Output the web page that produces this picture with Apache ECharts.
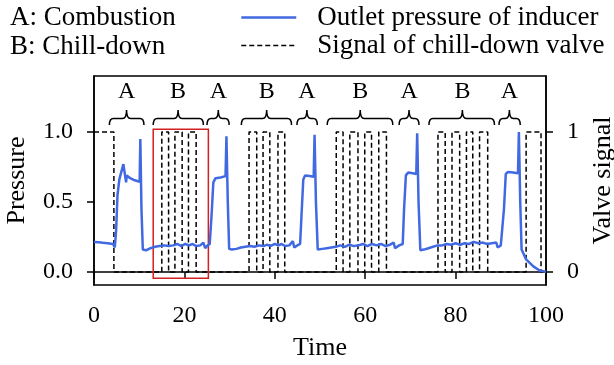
<!DOCTYPE html>
<html>
<head>
<meta charset="utf-8">
<script src="https://cdn.jsdelivr.net/npm/echarts@6.0.0/dist/echarts.min.js"></script>
<style>
  html, body { margin: 0; padding: 0; background: #fff; }
  #chart-container { width: 614px; height: 365px; }
</style>
</head>
<body>
<div id="chart-container"></div>
<script>
// outlet pressure of inducer (normalised)
const pressureTime = [0, 1, 2, 3, 4.2, 4.6, 4.9, 5.2, 5.6, 6.0, 6.5, 6.9, 7.1, 7.25, 8, 9, 10.1, 10.25, 10.5, 10.8,
  11.5, 12.5, 13.5, 14.5, 15.5, 16.5, 17.5, 18.5, 19.3, 20.2, 21, 21.8, 22.6, 23.5, 24.2, 24.6, 25.0,
  25.6, 26.0, 26.4, 26.9, 28, 29.1, 29.3, 29.6, 29.9,
  30.5, 31.5, 32.5, 33.5, 34.5, 35.5, 36.5, 37.5, 38.3, 39, 40, 40.8, 41.5, 42.3, 43.2, 44.0, 44.3, 45.0,
  45.6, 45.9, 46.3, 46.7, 47.7, 48.6, 48.8, 49.1, 49.5,
  50.5, 51.5, 52.5, 53.5, 54.5, 55.5, 56.5, 57.5, 58.5, 59.5, 60.5, 61.5, 62.5, 63.5, 64.5, 65.5, 66.3, 66.6, 67.5,
  68.3, 68.6, 69.0, 69.5, 70.5, 71.3, 71.5, 71.8, 72.2,
  73, 74, 75, 76, 77, 78, 79, 80, 81, 82, 83, 84, 85, 86, 87, 88, 89.0, 89.3, 90.0,
  90.4, 90.7, 91.1, 91.6, 92.7, 93.8, 94.0, 94.3, 94.6, 95.6, 97.2, 98.5, 100];
const pressureValue = [0.215, 0.212, 0.208, 0.205, 0.2, 0.175, 0.30, 0.55, 0.66, 0.71, 0.77, 0.78, 0.64, 0.69, 0.67, 0.655, 0.645, 0.95, 0.45, 0.16,
  0.155, 0.17, 0.18, 0.185, 0.19, 0.185, 0.19, 0.2, 0.185, 0.2, 0.19, 0.2, 0.185, 0.19, 0.21, 0.17, 0.185,
  0.2, 0.4, 0.64, 0.67, 0.675, 0.685, 0.97, 0.5, 0.165,
  0.16, 0.165, 0.175, 0.18, 0.185, 0.18, 0.19, 0.185, 0.195, 0.185, 0.2, 0.19, 0.2, 0.185, 0.19, 0.22, 0.175, 0.19,
  0.2, 0.4, 0.66, 0.69, 0.685, 0.68, 0.98, 0.5, 0.16,
  0.165, 0.17, 0.175, 0.18, 0.19, 0.18, 0.195, 0.185, 0.19, 0.2, 0.185, 0.2, 0.19, 0.2, 0.185, 0.195, 0.21, 0.17, 0.19,
  0.2, 0.45, 0.69, 0.71, 0.705, 0.7, 0.99, 0.5, 0.155,
  0.16, 0.17, 0.18, 0.19, 0.19, 0.2, 0.195, 0.205, 0.195, 0.205, 0.2, 0.215, 0.205, 0.21, 0.2, 0.205, 0.21, 0.175, 0.19,
  0.2, 0.45, 0.7, 0.715, 0.71, 0.705, 1.0, 0.5, 0.16, 0.09, 0.04, 0.012, 0.0];

// chill-down valve signal: value switches to valveValue[i] at valveTime[i]
const valveTime = [0, 4.4,
  15.0, 16.5, 17.9, 19.5, 20.9, 22.6,
  34.3, 36.0, 37.4, 38.9, 40.7, 42.2,
  53.6, 55.1, 56.6, 58.4, 59.9, 61.4, 63.0, 64.7,
  76.1, 77.7, 79.2, 80.9, 82.4, 83.8, 85.3, 87.1,
  95.6, 98.9, 100];
const valveValue = [1, 0,
  1, 0, 1, 0, 1, 0,
  1, 0, 1, 0, 1, 0,
  1, 0, 1, 0, 1, 0, 1, 0,
  1, 0, 1, 0, 1, 0, 1, 0,
  1, 0, 0];

// phase braces
const braceLabel = ['A', 'B', 'A', 'B', 'A', 'B', 'A', 'B', 'A'];
const braceStart = [3.4, 13.1, 25.0, 32.6, 44.9, 51.6, 67.5, 74.1, 89.6];
const braceEnd = [11.05, 24.2, 29.9, 43.7, 49.4, 66.1, 71.9, 88.6, 94.3];
const braceCenter = [7.2, 18.6, 27.5, 38.2, 47.1, 58.9, 69.7, 81.5, 91.9];

// highlighted window
const boxTime = [13.1, 25.3];
const boxPressure = [-0.045, 1.02];

const xTicks = [0, 20, 40, 60, 80, 100];
const pressureTicks = [0, 0.5, 1];
const valveTicks = [0, 1];
const phaseNotes = ['A: Combustion', 'B: Chill-down'];

const braceLevel = 1.096;
const labelLevel = 1.285;
const font = '"Liberation Serif", serif';

var dom = document.getElementById('chart-container');
var myChart = echarts.init(dom, null, { renderer: 'canvas' });

function renderBrace(params, api) {
  const i = params.dataIndex;
  const p0 = api.coord([braceStart[i], braceLevel]);
  const xs = p0[0], yb = p0[1];
  const xe = api.coord([braceEnd[i], braceLevel])[0];
  const xc = api.coord([braceCenter[i], braceLevel])[0];
  const lab = api.coord([braceCenter[i], labelLevel]);
  const tip = 6.5, tick = 8.5, r = 4;
  const d = 'M' + xs + ' ' + (yb + tip) + ' Q' + xs + ' ' + yb + ' ' + (xs + r) + ' ' + yb +
    ' L' + (xc - r) + ' ' + yb + ' Q' + xc + ' ' + yb + ' ' + xc + ' ' + (yb - tick) +
    ' M' + xc + ' ' + (yb - tick) + ' Q' + xc + ' ' + yb + ' ' + (xc + r) + ' ' + yb +
    ' L' + (xe - r) + ' ' + yb + ' Q' + xe + ' ' + yb + ' ' + xe + ' ' + (yb + tip);
  return {
    type: 'group',
    children: [
      { type: 'path', shape: { pathData: d }, style: { fill: null, stroke: '#000', lineWidth: 1.5 } },
      { type: 'text', style: { text: braceLabel[i], x: lab[0], y: lab[1], align: 'center', verticalAlign: 'middle',
        font: '24px ' + font, fill: '#000' } }
    ]
  };
}

var option = {
  animation: false,
  backgroundColor: '#fff',
  textStyle: { fontFamily: font },
  graphic: phaseNotes.map((t, i) => ({
    type: 'text',
    left: 10,
    top: 4 + i * 29,
    style: { text: t, font: '27px ' + font, fill: '#000' }
  })),
  legend: {
    data: ['Outlet pressure of inducer', 'Signal of chill-down valve'],
    orient: 'vertical',
    left: 240,
    top: 4,
    padding: 0,
    itemWidth: 55,
    itemHeight: 14,
    itemGap: 1,
    itemStyle: { opacity: 0 },
    lineStyle: { width: 'inherit' },
    textStyle: { fontFamily: font, fontSize: 27, color: '#000', padding: [0, 0, 0, 16] }
  },
  grid: {
    left: 94, right: 68, top: 76, bottom: 80,
    outerBoundsMode: 'none',
    show: true, borderColor: '#000', borderWidth: 1.5, backgroundColor: 'transparent'
  },
  xAxis: {
    type: 'value',
    min: 0, max: 100, interval: 20,
    name: 'Time',
    nameLocation: 'middle',
    nameGap: 50,
    nameTextStyle: { fontFamily: font, fontSize: 26, color: '#000' },
    axisLine: { show: true, lineStyle: { color: '#000', width: 1.5 } },
    axisTick: { show: true, length: 7, lineStyle: { color: '#000', width: 1.5 } },
    axisLabel: { fontFamily: font, fontSize: 24, color: '#000', margin: 19, customValues: xTicks },
    splitLine: { show: false }
  },
  yAxis: [{
    type: 'value',
    min: -0.093, max: 1.4,
    name: 'Pressure',
    nameLocation: 'middle',
    nameGap: 64,
    nameRotate: 90,
    nameTextStyle: { fontFamily: font, fontSize: 26, color: '#000' },
    axisLine: { show: true, lineStyle: { color: '#000', width: 1.5 } },
    axisTick: { show: true, length: 7, lineStyle: { color: '#000', width: 1.5 }, customValues: pressureTicks },
    axisLabel: { fontFamily: font, fontSize: 24, color: '#000', margin: 21, customValues: pressureTicks,
      formatter: v => v.toFixed(1) },
    splitLine: { show: false }
  }, {
    type: 'value',
    position: 'right',
    min: -0.093, max: 1.4,
    name: 'Valve signal',
    nameLocation: 'middle',
    nameGap: 42,
    nameRotate: 90,
    nameTextStyle: { fontFamily: font, fontSize: 26, color: '#000' },
    axisLine: { show: true, lineStyle: { color: '#000', width: 1.5 } },
    axisTick: { show: true, length: 7, lineStyle: { color: '#000', width: 1.5 }, customValues: valveTicks },
    axisLabel: { fontFamily: font, fontSize: 24, color: '#000', margin: 21, customValues: valveTicks,
      formatter: v => String(Math.round(v)) },
    splitLine: { show: false }
  }],
  series: [
    {
      name: 'Signal of chill-down valve',
      type: 'line',
      yAxisIndex: 1,
      step: 'end',
      symbol: 'none',
      data: valveTime.map((t, i) => [t, valveValue[i]]),
      lineStyle: { color: '#000', width: 1.5, type: [5, 3] },
      itemStyle: { color: '#000' },
      z: 2
    },
    {
      name: 'Outlet pressure of inducer',
      type: 'line',
      symbol: 'none',
      data: pressureTime.map((t, i) => [t, pressureValue[i]]),
      lineStyle: { color: '#4169e1', width: 2.5 },
      itemStyle: { color: '#4169e1' },
      z: 3,
      markArea: {
        silent: true,
        itemStyle: { color: 'rgba(0,0,0,0)', borderColor: '#d42020', borderWidth: 1.5 },
        data: [[{ coord: [boxTime[0], boxPressure[1]] }, { coord: [boxTime[1], boxPressure[0]] }]]
      }
    },
    {
      type: 'custom',
      renderItem: renderBrace,
      data: braceStart.map((s, i) => [s, braceEnd[i], braceCenter[i], braceLevel]),
      encode: { x: [0, 1, 2], y: 3 },
      silent: true,
      z: 4
    }
  ]
};

myChart.setOption(option);
window.addEventListener('resize', myChart.resize);
</script>
</body>
</html>
